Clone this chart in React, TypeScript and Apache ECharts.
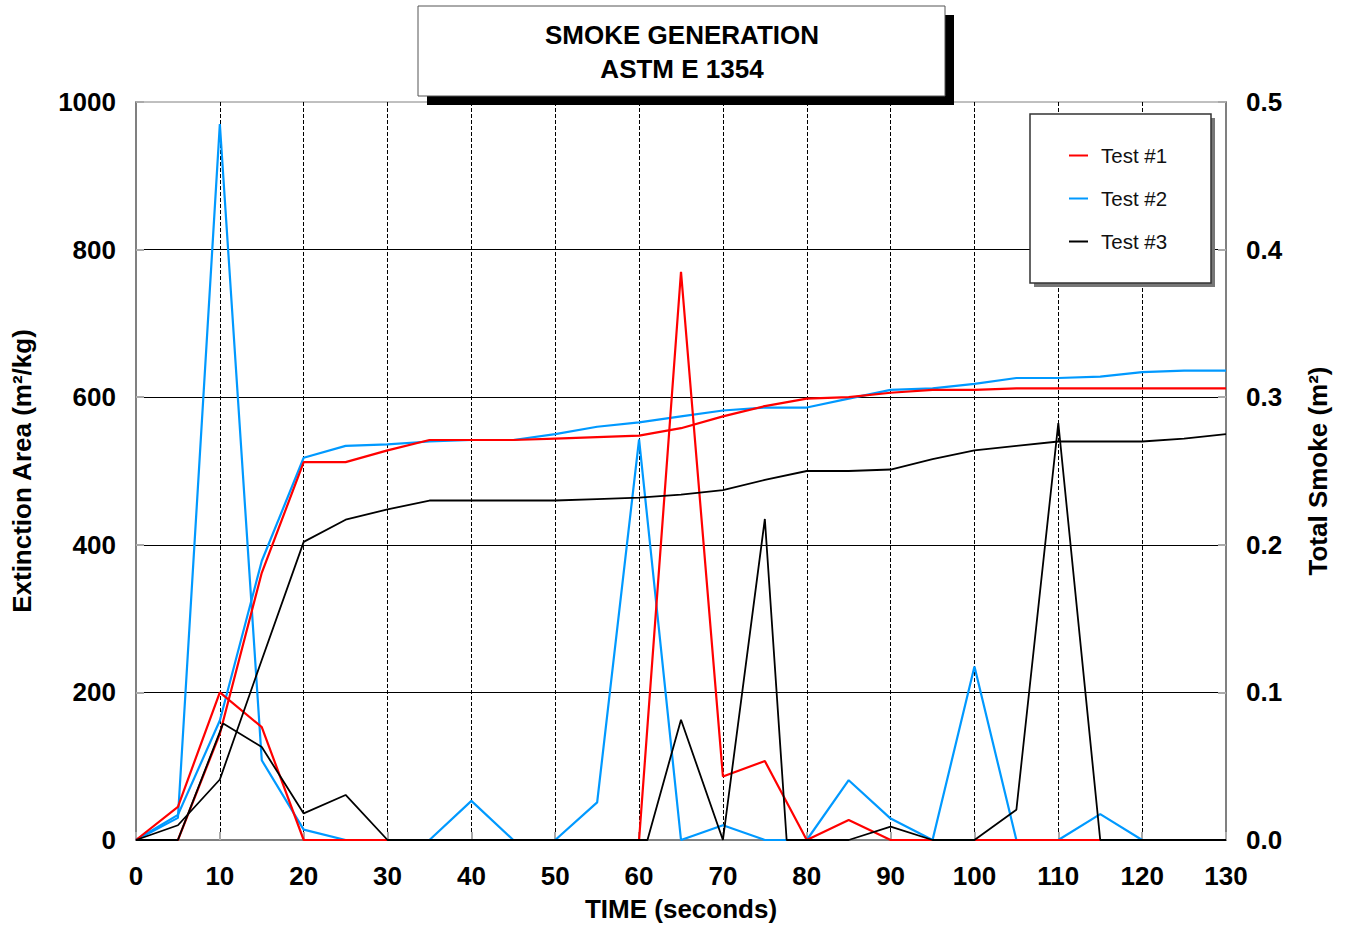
import React, { useEffect, useRef } from "react";
import * as echarts from "echarts";

// Time stamps (s) for tests #1 and #2
const TIME = [0, 5, 10, 15, 20, 25, 30, 35, 40, 45, 50, 55, 60, 65, 70, 75, 80, 85, 90, 95, 100, 105, 110, 115, 120, 125, 130];

// Extinction area (m²/kg) – left axis
const RED_RATE = [0, 45, 200, 153, 0, 0, 0, 0, 0, 0, 0, 0, 0, 770, 86, 107, 0, 27, 0, 0, 0, 0, 0, 0, 0, 0, 0];
const BLUE_RATE = [0, 30, 970, 108, 14, 0, 0, 0, 53, 0, 0, 51, 543, 0, 20, 0, 0, 81, 29, 0, 235, 0, 0, 35, 0, 0, 0];
const BLACK_RATE_TIME = [0, 5, 10.4, 15, 20, 25, 30, 35, 40, 45, 50, 55, 61, 65, 70, 75, 77.6, 80, 85, 90, 95, 100, 105, 110, 115, 120, 125, 130];
const BLACK_RATE = [0, 0, 158, 126, 36, 61, 0, 0, 0, 0, 0, 0, 0, 163, 0, 435, 0, 0, 0, 18, 0, 0, 41, 565, 0, 0, 0, 0];

// Total smoke (m²) – right axis
const RED_TOTAL = [0, 0, 0.072, 0.181, 0.256, 0.256, 0.264, 0.271, 0.271, 0.271, 0.272, 0.273, 0.274, 0.279, 0.287, 0.294, 0.299, 0.3, 0.303, 0.305, 0.305, 0.306, 0.306, 0.306, 0.306, 0.306, 0.306];
const BLUE_TOTAL = [0, 0.017, 0.081, 0.189, 0.259, 0.267, 0.268, 0.27, 0.271, 0.271, 0.275, 0.28, 0.283, 0.287, 0.291, 0.293, 0.293, 0.299, 0.305, 0.306, 0.309, 0.313, 0.313, 0.314, 0.317, 0.318, 0.318];
const BLACK_TOTAL = [0, 0.01, 0.041, 0.122, 0.202, 0.217, 0.224, 0.23, 0.23, 0.23, 0.23, 0.231, 0.232, 0.234, 0.237, 0.244, 0.25, 0.25, 0.251, 0.258, 0.264, 0.267, 0.27, 0.27, 0.27, 0.272, 0.275];

const SERIES_NAMES = ["Test #1", "Test #2", "Test #3"];
const COLORS = ["#ff0000", "#0099ff", "#000000"];

const FONT = "'Liberation Sans', Arial, Helvetica, sans-serif";

function pairs(xs: number[], ys: number[]) {
  return xs.map((x, i) => [x, ys[i]]);
}

export default function App() {
  const ref = useRef<HTMLDivElement>(null);

  useEffect(() => {
    if (!ref.current) return;
    const chart = echarts.init(ref.current, undefined, { renderer: "svg" });

    const axisLabelStyle = {
      fontFamily: FONT,
      fontWeight: "bold" as const,
      fontSize: 26,
      color: "#000",
    };

    const mkLine = (name: string, color: string, data: number[][], yAxisIndex: number, width: number) => ({
      type: "line",
      name,
      data,
      yAxisIndex,
      color,
      showSymbol: false,
      symbol: "none",
      lineStyle: { color, width },
      itemStyle: { color },
      emphasis: { disabled: true },
    });

    const option: any = {
      animation: false,
      backgroundColor: "#ffffff",
      title: {
        text: "SMOKE GENERATION\nASTM E 1354",
        left: 677,
        top: 13,
        textAlign: "center",
        z: 200,
        textStyle: {
          fontFamily: FONT,
          fontWeight: "bold",
          fontSize: 26,
          lineHeight: 34,
          color: "#000",
        },
      },
      legend: {
        data: SERIES_NAMES,
        orient: "vertical",
        left: 1069,
        top: 145,
        padding: 0,
        itemGap: 22,
        itemWidth: 19,
        itemHeight: 2,
        icon: "rect",
        z: 200,
        selectedMode: false,
        textStyle: {
          fontFamily: FONT,
          fontSize: 20.5,
          lineHeight: 20,
          color: "#111",
          padding: [0, 0, 0, 8],
        },
      },
      graphic: [
        { type: "rect", z: 100, shape: { x: 427, y: 15, width: 527, height: 90 }, style: { fill: "#000" } },
        { type: "rect", z: 101, shape: { x: 418, y: 6, width: 527, height: 90 }, style: { fill: "#fff", stroke: "#555", lineWidth: 1 } },
        { type: "rect", z: 100, shape: { x: 1034, y: 118, width: 181, height: 169 }, style: { fill: "#777" } },
        { type: "rect", z: 101, shape: { x: 1030, y: 114, width: 181, height: 169 }, style: { fill: "#fff", stroke: "#333", lineWidth: 1.5 } },
      ],
      grid: {
        left: 136,
        right: 122,
        top: 102,
        bottom: 87,
        show: true,
        borderColor: "#808080",
        borderWidth: 1,
        backgroundColor: "transparent",
      },
      xAxis: {
        type: "value",
        min: 0,
        max: 130,
        interval: 10,
        name: "TIME (seconds)",
        nameLocation: "middle",
        nameGap: 56,
        nameTextStyle: { ...axisLabelStyle },
        axisLine: { show: true, lineStyle: { color: "#808080", width: 2 } },
        axisTick: { show: true, inside: true, length: 8, lineStyle: { color: "#aaa", width: 2 } },
        axisLabel: { ...axisLabelStyle, margin: 23, formatter: (v: number) => String(v) },
        splitLine: {
          show: true,
          showMinLine: false,
          showMaxLine: false,
          lineStyle: { color: "#000", width: 1, type: [4, 2] },
        },
      },
      yAxis: [
        {
          type: "value",
          position: "left",
          min: 0,
          max: 1000,
          interval: 200,
          name: "Extinction Area (m²/kg)",
          nameLocation: "middle",
          nameRotate: 90,
          nameGap: 101,
          nameTextStyle: { ...axisLabelStyle },
          axisLine: { show: true, lineStyle: { color: "#808080", width: 2 } },
          axisTick: { show: true, inside: true, length: 8, lineStyle: { color: "#aaa", width: 2 } },
          axisLabel: { ...axisLabelStyle, margin: 20, formatter: (v: number) => String(v) },
          splitLine: {
            show: true,
            showMinLine: false,
            showMaxLine: false,
            lineStyle: { color: "#000", width: 1, type: "solid" },
          },
        },
        {
          type: "value",
          position: "right",
          min: 0,
          max: 0.5,
          interval: 0.1,
          name: "Total Smoke (m²)",
          nameLocation: "middle",
          nameRotate: 90,
          nameGap: 79,
          nameTextStyle: { ...axisLabelStyle },
          axisLine: { show: true, lineStyle: { color: "#808080", width: 2 } },
          axisTick: { show: true, inside: true, length: 8, lineStyle: { color: "#aaa", width: 2 } },
          axisLabel: { ...axisLabelStyle, margin: 20, formatter: (v: number) => v.toFixed(1) },
          splitLine: { show: false },
        },
      ],
      series: [
        mkLine(SERIES_NAMES[1], COLORS[1], pairs(TIME, BLUE_TOTAL), 1, 2.2),
        mkLine(SERIES_NAMES[1], COLORS[1], pairs(TIME, BLUE_RATE), 0, 2.2),
        mkLine(SERIES_NAMES[0], COLORS[0], pairs(TIME, RED_TOTAL), 1, 2.2),
        mkLine(SERIES_NAMES[0], COLORS[0], pairs(TIME, RED_RATE), 0, 2.2),
        mkLine(SERIES_NAMES[2], COLORS[2], pairs(TIME, BLACK_TOTAL), 1, 1.8),
        mkLine(SERIES_NAMES[2], COLORS[2], pairs(BLACK_RATE_TIME, BLACK_RATE), 0, 1.8),
      ],
    };

    chart.setOption(option);
    return () => chart.dispose();
  }, []);

  return (
    <div
      ref={ref}
      style={{ position: "fixed", left: 0, top: 0, width: 1348, height: 927, background: "#fff" }}
    />
  );
}
